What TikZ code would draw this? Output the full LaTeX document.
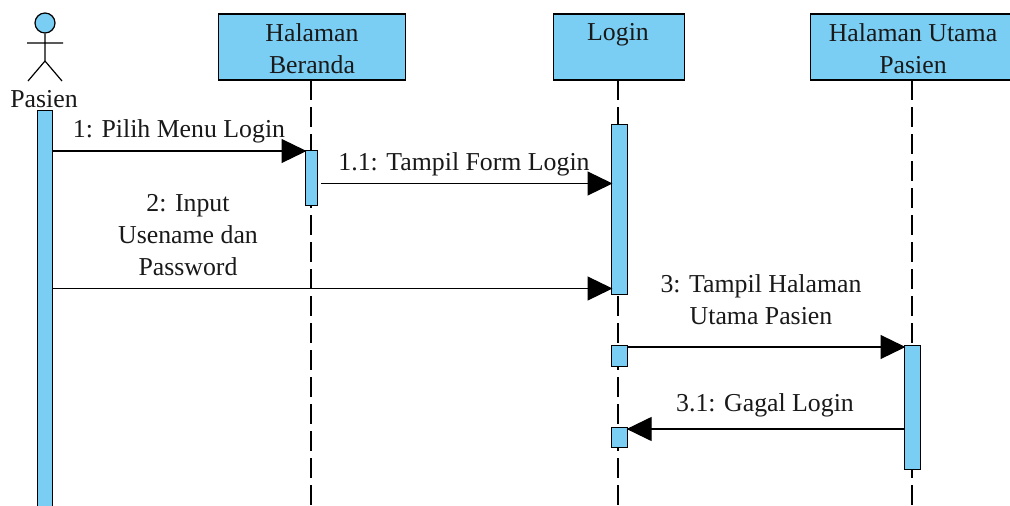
\documentclass[tikz,border=0pt]{standalone}
\usepackage{fontspec}
\setmainfont{Liberation Serif}
\usetikzlibrary{arrows.meta}
\definecolor{fillb}{HTML}{7ACEF4}
\tikzset{x=1pt,y=-1pt,
 head/.style={draw=black,fill=fillb,line width=1.2pt,inner sep=0pt},
 bar/.style={draw=black,fill=fillb,line width=1.1pt,inner sep=0pt},
 life/.style={line width=1.2pt,dash pattern=on 20pt off 7pt},
 msg/.style={line width=1.2pt,shorten >=-1.5pt,-{Triangle[length=25pt,width=24pt,fill=black]}},
 lbl/.style={font=\fontsize{25.8}{32}\selectfont,align=center,inner sep=0pt,text=black!90}}
\begin{document}
\begin{tikzpicture}
\useasboundingbox (0,0) rectangle (1010,506);
\fill[white] (0,0) rectangle (1010,506);
% lifelines
\coordinate (l1t) at (311,80); \coordinate (l1b) at (311,506);
\coordinate (l2t) at (618,80); \coordinate (l2b) at (618,506);
\coordinate (l3t) at (912,80); \coordinate (l3b) at (912,506);
\draw[life] (l1t) -- (l1b);
\draw[life] (l2t) -- (l2b);
\draw[life] (l3t) -- (l3b);
% heads
\node[head,minimum width=187pt,minimum height=66pt] (hb) at (312,47) {};
\node[lbl] (hbt) at (312,49) {Halaman\\Beranda};
\node[head,minimum width=131pt,minimum height=66pt] (hl) at (619,47) {};
\node[lbl] (hlt) at (618,35) {Login};
\node[head,minimum width=204pt,minimum height=66pt] (hu) at (912.5,47) {};
\node[lbl] (hut) at (913,48.5) {Halaman Utama\\Pasien};
% actor
\node[circle,draw=black,fill=fillb,line width=1.2pt,minimum size=20pt,inner sep=0pt] (ah) at (45,23) {};
\coordinate (an) at (45,61); \coordinate (ala) at (27,43); \coordinate (ara) at (63,43);
\coordinate (all) at (28,81); \coordinate (arl) at (62,81);
\draw[line width=1.2pt] (ah) -- (an) (ala) -- (ara) (all) -- (an) -- (arl);
\node[lbl] (ap) at (44,99) {Pasien};
% bars
\node[bar,minimum width=15pt,minimum height=396pt,anchor=north west] (b0) at (37,110) {};
\node[bar,minimum width=12pt,minimum height=55pt,anchor=north west] (b1) at (305,150) {};
\node[bar,minimum width=16pt,minimum height=170pt,anchor=north west] (b2) at (611,124) {};
\node[bar,minimum width=16pt,minimum height=21pt,anchor=north west] (b3) at (611,345) {};
\node[bar,minimum width=16pt,minimum height=20pt,anchor=north west] (b4) at (611,427) {};
\node[bar,minimum width=16pt,minimum height=124pt,anchor=north west] (b5) at (904,345) {};
% messages
\draw[msg] (b0.east |- 0,151) -- (b1.west |- 0,151);
\draw[msg,shorten <=3pt] (b1.east |- 0,183.5) -- (b2.west |- 0,183.5);
\draw[msg] (b0.east |- 0,288.5) -- (b2.west |- 0,288.5);
\draw[msg] (b3.east |- 0,347) -- (b5.west |- 0,347);
\draw[msg] (b5.west |- 0,429) -- (b4.east |- 0,429);
% labels
\node[lbl] (m1) at (179,131) {1: Pilih Menu Login};
\node[lbl] (m2) at (464,164) {1.1: Tampil Form Login};
\node[lbl] (m3) at (188,235) {2: Input\\Usename dan\\Password};
\node[lbl] (m4) at (761,299.5) {3: Tampil Halaman\\Utama Pasien};
\node[lbl] (m5) at (765,405) {3.1: Gagal Login};
\end{tikzpicture}
\end{document}
